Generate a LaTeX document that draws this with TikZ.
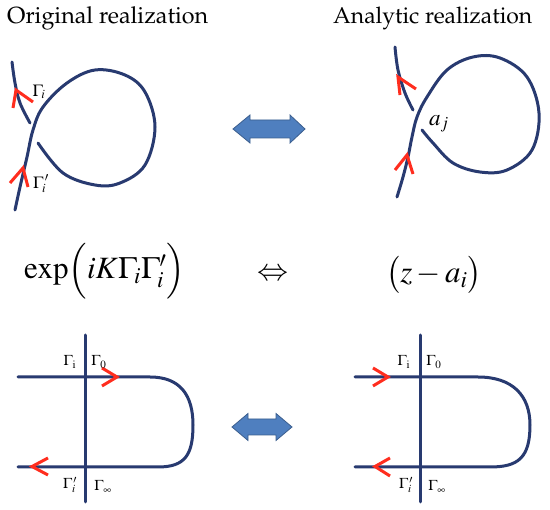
\documentclass[tikz,border=0pt]{standalone}
\usepackage[T1,TU]{fontenc}
\usepackage{mathptmx}
\usepackage{graphicx}
\newcommand{\palfont}{\fontencoding{T1}\fontfamily{ppl}\selectfont}
\definecolor{navy}{HTML}{283A70}
\definecolor{arrred}{HTML}{FF2D1E}
\definecolor{arrblue}{HTML}{4F7FBF}
\definecolor{arrbluedk}{HTML}{3B5E8E}
\begin{document}
\begin{tikzpicture}[x=1pt,y=-1pt,
  strand/.style={draw=navy, line width=3pt, line cap=round},
  redarr/.style={draw=arrred, line width=3pt, line cap=butt, line join=miter},
  bigarrow/.style={fill=arrblue, draw=arrbluedk, line width=0.8pt, line join=miter},
  lbl/.style={inner sep=0pt, font=\fontsize{17}{20}\selectfont},
  lblsm/.style={inner sep=0pt, font=\fontsize{15}{18}\selectfont},
  formula/.style={inner sep=0pt, font=\fontsize{31}{38}\selectfont}]
\useasboundingbox (0,0) rectangle (550,510);
\fill[white] (0,0) rectangle (550,510);

% titles
\node[anchor=base west, inner sep=0pt] (t1) at (7,24) {\resizebox{201pt}{!}{\palfont Original realization}};
\node[anchor=base west, inner sep=0pt] (t2) at (333,24) {\resizebox{199pt}{!}{\palfont Analytic realization}};

% top-left loop
\draw[strand] plot[smooth, tension=0.6] coordinates {(15,210) (20,187) (27,157) (33,130) (43,107) (67,83) (95,70) (125,75) (145,92) (155,127) (145,165) (120,183) (95,185) (63,173) (38,143)};
\draw[strand] plot[smooth, tension=0.6] coordinates {(12,62) (15,83) (20,103) (30,123)};
\draw[redarr] (13,108) -- (16,90) -- (33,102);
\draw[redarr] (10,183) -- (23,168) -- (28,187);
\node[lbl] (gA) at (39,92) {$\Gamma_{\!i}$};
\node[lbl] (gB) at (41,184) {$\Gamma_{\!i}^{\,\prime}$};

% top-right loop
\draw[strand] plot[smooth, tension=0.6] coordinates {(397,197) (403,177) (408,157) (412,137) (417,117) (427,97) (447,70) (473,57) (500,58) (527,77) (539,113) (532,150) (507,170) (480,172) (453,163) (433,143) (422,130)};
\draw[strand] plot[smooth, tension=0.6] coordinates {(395,47) (398,70) (405,93) (413,110)};
\draw[redarr] (400,95) -- (398,77) -- (416,89);
\draw[redarr] (395,170) -- (407,155) -- (413,174);
\node[inner sep=0pt, font=\fontsize{23}{28}\selectfont] (aj) at (439,124) {$a_j$};

% top double arrow
\draw[bigarrow] (233,129) -- (250,115) -- (250,120) -- (290,120) -- (290,115) -- (305,129) -- (290,143) -- (290,138) -- (250,138) -- (250,143) -- cycle;

% formulas
\node[formula, anchor=west] (f1) at (24,271) {$\exp\Bigl(iK\Gamma_{\!i}\Gamma_{\!i}^{\prime}\Bigr)$};
\node[formula] (eq) at (273,275) {$\Leftrightarrow$};
\node[formula, anchor=west] (f2) at (386,275) {$\bigl(z-a_i\bigr)$};

% bottom-left
\draw[strand] (85,335) -- (85,502);
\draw[strand] (18,377) -- (150,377) .. controls (180,377) and (193,395) .. (193,425) .. controls (193,455) and (185,467) .. (158,467) -- (18,467);
\draw[redarr] (102,368) -- (117,377) -- (102,386);
\draw[redarr] (48,458) -- (32,466.5) -- (48,475);
\node[lblsm] (c1) at (70,362) {$\Gamma_{\mathrm{i}}$};
\node[lblsm] (c2) at (99,362) {$\Gamma_{0}$};
\node[lblsm] (c3) at (70,485) {$\Gamma_{i}^{\,\prime}$};
\node[lblsm] (c4) at (103,487) {$\Gamma_{\infty}$};

% bottom double arrow
\draw[bigarrow] (232,427) -- (248,413.5) -- (248,419) -- (276,419) -- (276,413.5) -- (292,427) -- (276,440.5) -- (276,435) -- (248,435) -- (248,440.5) -- cycle;

% bottom-right
\draw[strand] (420,335) -- (420,502);
\draw[strand] (355,377) -- (478,377) .. controls (512,377) and (530,395) .. (530,425) .. controls (530,458) and (518,467) .. (490,467) -- (355,467);
\draw[redarr] (373,368) -- (388,377) -- (373,386);
\draw[redarr] (390,458) -- (375,466.5) -- (390,476);
\node[lblsm] (d1) at (404,362) {$\Gamma_{\mathrm{i}}$};
\node[lblsm] (d2) at (434,362) {$\Gamma_{0}$};
\node[lblsm] (d3) at (406,485) {$\Gamma_{i}^{\,\prime}$};
\node[lblsm] (d4) at (437,487) {$\Gamma_{\infty}$};
\end{tikzpicture}
\end{document}
